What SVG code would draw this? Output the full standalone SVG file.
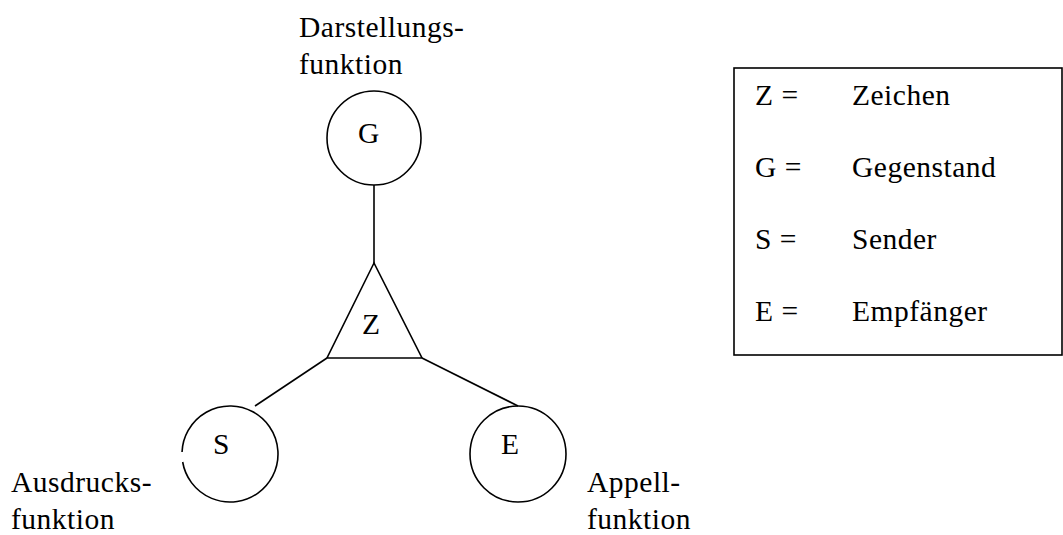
<svg xmlns="http://www.w3.org/2000/svg" width="1063" height="535" viewBox="0 0 1063 535">
<style>
.t{font-family:"Liberation Serif","Times New Roman",serif;font-size:29.5px;letter-spacing:0.5px;fill:#000}
.s{fill:none;stroke:#000;stroke-width:1.6}
</style>
<rect x="0" y="0" width="1063" height="535" fill="#fff"/>
<g id="connectors">
<line class="s" x1="374" y1="185" x2="374" y2="263"/>
<line class="s" x1="327" y1="358" x2="255" y2="406"/>
<line class="s" x1="422" y1="358" x2="518" y2="406"/>
</g>
<g id="node-G">
<circle class="s" cx="374" cy="138" r="47"/>
<text class="t" x="358" y="143">G</text>
</g>
<g id="node-Z">
<polygon class="s" points="374,263 327,358 422,358"/>
<text class="t" x="362" y="334">Z</text>
</g>
<g id="node-S">
<path class="s" d="M 182.04 452 A 48 48 0 1 1 182.67 462"/>
<text class="t" x="213" y="454">S</text>
</g>
<g id="node-E">
<circle class="s" cx="518" cy="454" r="48"/>
<text class="t" x="501" y="454">E</text>
</g>
<g id="labels">
<text class="t" x="299" y="37">Darstellungs-</text>
<text class="t" x="299" y="74">funktion</text>
<text class="t" x="11" y="492">Ausdrucks-</text>
<text class="t" x="11" y="529">funktion</text>
<text class="t" x="587" y="492">Appell-</text>
<text class="t" x="587" y="529">funktion</text>
</g>
<g id="legend">
<rect class="s" x="734" y="68" width="328" height="287"/>
<text class="t" x="755" y="105">Z =</text>
<text class="t" x="852" y="105">Zeichen</text>
<text class="t" x="755" y="177">G =</text>
<text class="t" x="852" y="177">Gegenstand</text>
<text class="t" x="755" y="249">S =</text>
<text class="t" x="852" y="249">Sender</text>
<text class="t" x="755" y="321">E =</text>
<text class="t" x="852" y="321">Empfänger</text>
</g>
</svg>
